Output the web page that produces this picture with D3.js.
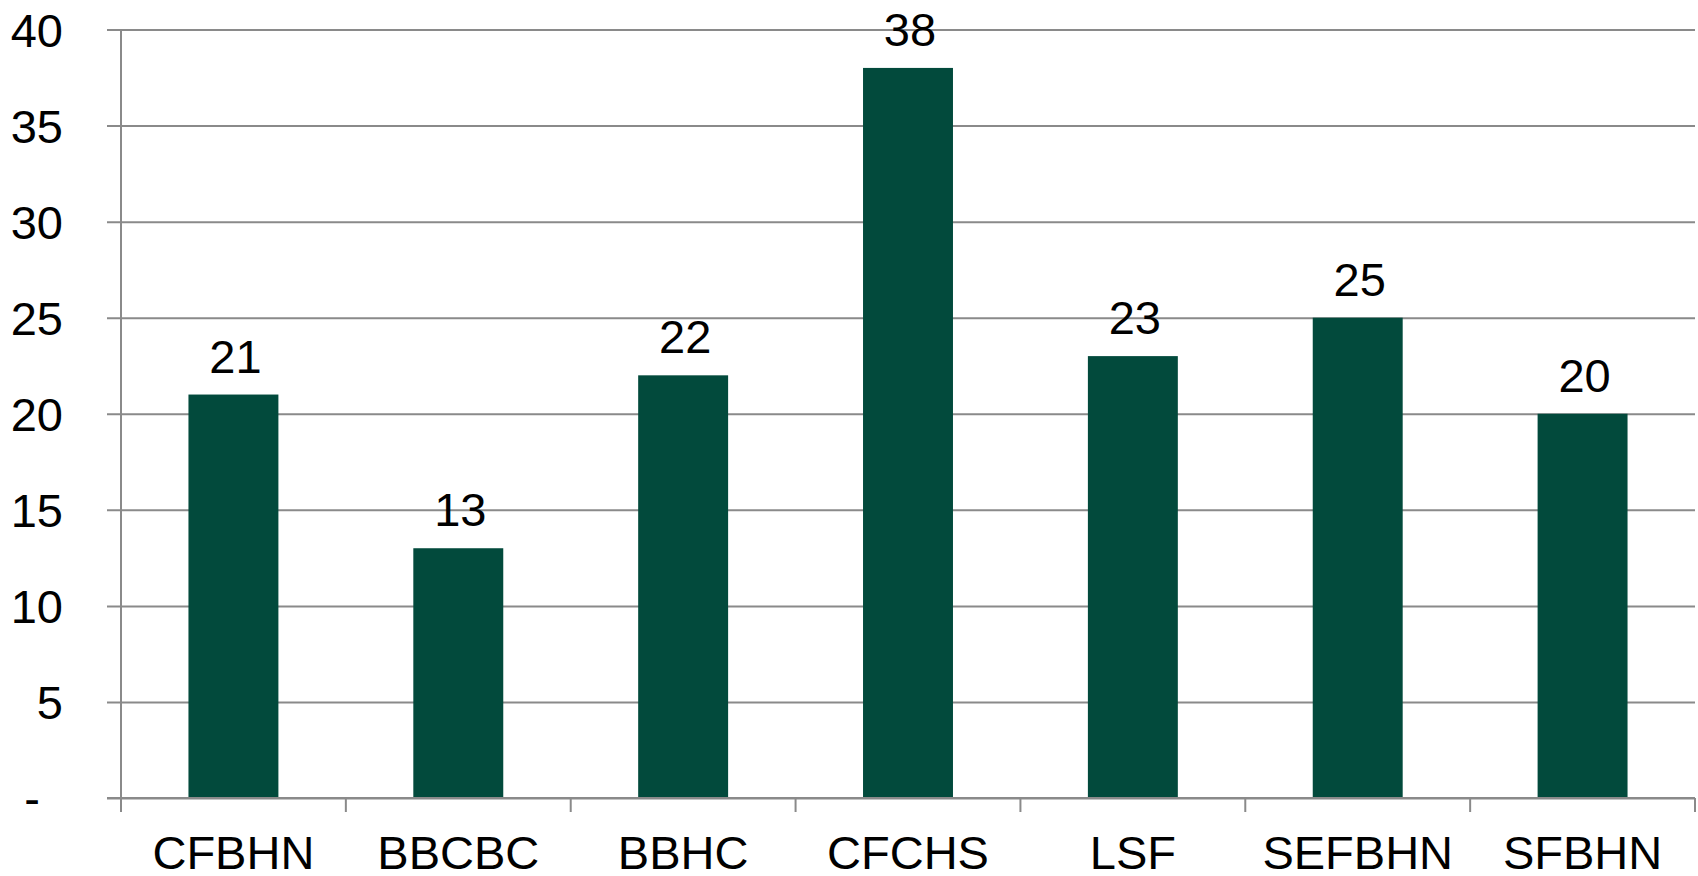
<!DOCTYPE html>
<html>
<head>
<meta charset="utf-8">
<script src="https://cdn.jsdelivr.net/npm/d3@7"></script>
<style>
  html, body { margin: 0; padding: 0; background: #ffffff; }
  svg { display: block; }
  text { font-family: "Liberation Sans", Arial, sans-serif; fill: #000; }
</style>
</head>
<body>
<svg id="chart" width="1698" height="876"></svg>
<script>
const categories = ["CFBHN", "BBCBC", "BBHC", "CFCHS", "LSF", "SEFBHN", "SFBHN"];
const values = [21, 13, 22, 38, 23, 25, 20];
const yTicks = [0, 5, 10, 15, 20, 25, 30, 35, 40];

(function () {
const svg = d3.select("#chart");
const mLeft = 121, mRight = 1695, mTop = 29.5, mBottom = 798;
const gridColor = "#8a8a8a";
const barColor = "#024a3c";
const fontSize = 47;

const x = d3.scaleBand().domain(categories).range([mLeft, mRight]).padding(0);
const y = d3.scaleLinear().domain([0, 40]).range([mBottom, mTop]);

// horizontal gridlines + y ticks
const yAxis = d3.axisLeft(y).tickValues(yTicks).tickSize(14).tickSizeOuter(0)
  .tickFormat(d => d === 0 ? "-" : d3.format("d")(d));
const gy = svg.append("g").attr("transform", `translate(${mLeft},0)`).call(yAxis);
gy.select(".domain").remove();
gy.selectAll(".tick line").attr("stroke", gridColor).attr("stroke-width", 2)
  .attr("x1", -14).attr("x2", mRight - mLeft);
gy.selectAll(".tick text")
  .attr("x", 63 - mLeft).attr("dy", null)
  .attr("y", 16.5)
  .style("font-size", fontSize + "px").style("font-family", '"Liberation Sans", Arial, sans-serif')
  .attr("fill", "#000");
gy.selectAll(".tick").filter(d => d === 0).select("text").attr("x", 40 - mLeft);

// bars
const barW = x.bandwidth() * 0.4;
svg.append("g").selectAll("rect").data(categories).join("rect")
  .attr("x", (d) => x(d) + (x.bandwidth() - barW) / 2)
  .attr("y", (d, i) => y(values[i]))
  .attr("width", barW)
  .attr("height", (d, i) => y(0) - y(values[i]))
  .attr("fill", barColor);

// y axis line
svg.append("line").attr("x1", mLeft).attr("x2", mLeft).attr("y1", mTop).attr("y2", mBottom + 14)
  .attr("stroke", gridColor).attr("stroke-width", 2);

// x axis
const boundaries = categories.map(c => x(c)).concat([mRight]);
const gx = svg.append("g");
gx.append("line").attr("x1", mLeft - 14).attr("x2", mRight).attr("y1", mBottom).attr("y2", mBottom)
  .attr("stroke", gridColor).attr("stroke-width", 2);
gx.selectAll("line.tick").data(boundaries).join("line").attr("class", "tick")
  .attr("x1", d => d).attr("x2", d => d).attr("y1", mBottom).attr("y2", mBottom + 14)
  .attr("stroke", gridColor).attr("stroke-width", 2);
gx.selectAll("text").data(categories).join("text")
  .attr("x", d => x(d) + x.bandwidth() / 2)
  .attr("y", 869)
  .attr("text-anchor", "middle")
  .style("font-size", fontSize + "px")
  .text(d => d);

// value labels
svg.append("g").selectAll("text").data(categories).join("text")
  .attr("x", d => x(d) + x.bandwidth() / 2 + 2)
  .attr("y", (d, i) => y(values[i]) - 22)
  .attr("text-anchor", "middle")
  .style("font-size", fontSize + "px")
  .text((d, i) => d3.format("d")(values[i]));
})();
</script>
</body>
</html>
